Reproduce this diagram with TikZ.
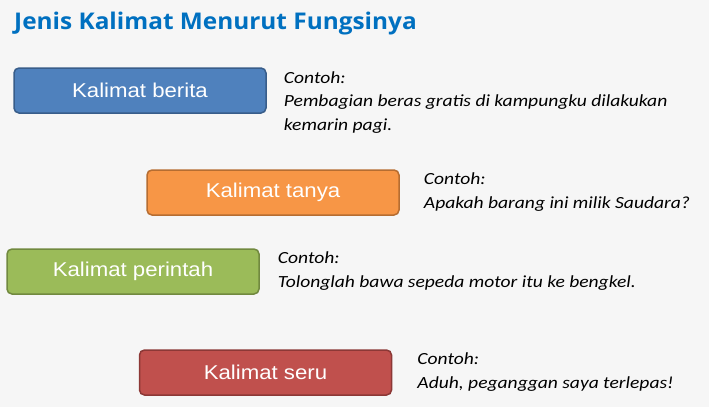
\documentclass[tikz,border=0pt]{standalone}
\usepackage{fontspec}
\newfontfamily\titlefont[FakeStretch=1.06]{Open Sans}
\newfontfamily\boxfont[FakeStretch=1.11]{Liberation Sans}
\newfontfamily\notefont[FakeStretch=1.15]{Carlito}
\usetikzlibrary{positioning}
\definecolor{bgcol}{HTML}{F6F6F6}
\definecolor{titleblue}{HTML}{0070C0}
\definecolor{beritafill}{HTML}{4F81BD}
\definecolor{beritadraw}{HTML}{385D8A}
\definecolor{tanyafill}{HTML}{F79646}
\definecolor{tanyadraw}{HTML}{B66D31}
\definecolor{perintahfill}{HTML}{9BBB59}
\definecolor{perintahdraw}{HTML}{71893F}
\definecolor{serufill}{HTML}{C0504D}
\definecolor{serudraw}{HTML}{8C3836}
\tikzstyle{kalimat} = [rectangle, rounded corners=5pt, minimum width=252pt, minimum height=45pt, line width=1.5pt, text=white, font=\boxfont\fontsize{20}{24}\selectfont, inner sep=0pt]
\tikzstyle{contoh} = [align=left, inner sep=0pt, anchor=base west, font=\notefont\itshape\fontsize{17}{23.5}\selectfont]

\begin{document}
\begin{tikzpicture}[x=1pt, y=-1pt]
    % Background
    \fill[bgcol] (0,0) rectangle (709,407);

    % Title
    \node (title) [anchor=base west, inner sep=0pt, text=titleblue, font=\titlefont\bfseries\fontsize{23}{27}\selectfont] at (14,29.5) {Jenis Kalimat Menurut Fungsinya};

    % Sentence boxes
    \node (berita) [kalimat, fill=beritafill, draw=beritadraw] at (140,90.5) {Kalimat berita};
    \node (tanya) [kalimat, fill=tanyafill, draw=tanyadraw] at (273,192.5) {Kalimat tanya};
    \node (perintah) [kalimat, fill=perintahfill, draw=perintahdraw] at (133,271.5) {Kalimat perintah};
    \node (seru) [kalimat, fill=serufill, draw=serudraw] at (265.5,372.5) {Kalimat seru};

    % Examples (base = last line)
    \node (ctberita) [right=17pt of berita.north east, contoh, yshift=-63pt] {Contoh:\\Pembagian beras gratis di kampungku dilakukan\\kemarin pagi.};
    \node (cttanya) [right=24pt of tanya.north east, contoh, yshift=-39pt] {Contoh:\\Apakah barang ini milik Saudara?};
    \node (ctperintah) [right=18pt of perintah.north east, contoh, yshift=-39pt] {Contoh:\\Tolonglah bawa sepeda motor itu ke bengkel.};
    \node (ctseru) [right=25pt of seru.north east, contoh, yshift=-39pt] {Contoh:\\Aduh, peganggan saya terlepas!};
  \end{tikzpicture}
\end{document}
